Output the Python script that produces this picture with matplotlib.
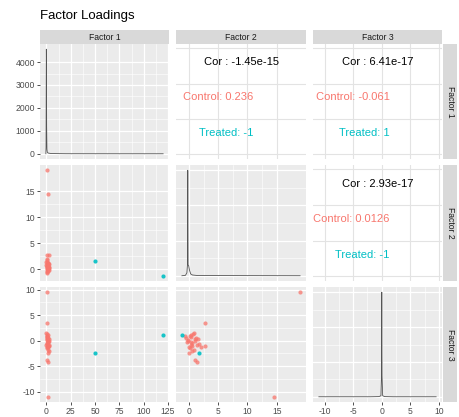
import numpy as np
import matplotlib
matplotlib.use("Agg")
import matplotlib.pyplot as plt

plt.rcParams['font.family'] = ['Liberation Sans', 'DejaVu Sans']

# factor scores, control group
ctrl_f1 = [1.0, 1.2, 0.8, 2.4, 0.9, 1.4, 0.2, 0.5, 1.1, 1.8, 2.2, 0.4, 0.7, 1.5, 2.8, 0.3,
           1.0, 1.9, 0.6, 2.5, 1.3, 0.1, 0.9, 1.6, 2.0, 3.0, 0.5, 1.2, 1.7, 0.8, 2.6, 0.0]
ctrl_f2 = [19.0, 14.5, 2.8, 2.8, 1.0, 1.3, -0.5, 0.2, 0.6, 1.1, 0.0, 0.4, -0.2, 0.9, 0.3, 1.5,
           0.7, -0.3, 0.1, 0.5, 1.2, 0.8, -0.6, 0.3, 0.6, 1.0, 1.8, 0.0, 0.4, 2.0, -0.1, 1.4]
ctrl_f3 = [9.5, -11.0, 3.5, -1.0, -3.8, -4.2, 0.5, 1.0, -0.5, 0.0, -1.2, 0.8, 0.2, -1.8, -0.8, 0.4,
           1.3, -0.3, -1.5, -2.0, 0.6, 1.6, 0.9, -0.2, -1.0, 0.3, -0.6, -2.4, 1.1, -1.3, 0.0, -0.9]

# treated group
trt_f1 = [50.0, 120.0]
trt_f2 = [1.7, -1.2]
trt_f3 = [-2.5, 1.2]

# density curves on the diagonal
d1_x = [-0.5, -0.3, -0.15, 0.0, 0.1, 0.3, 0.6, 1.0, 2.0, 5.0, 20.0, 50.0, 80.0, 120.0]
d1_y = [0, 300, 2500, 4560, 4000, 1200, 200, 60, 30, 10, 2, 1, 0, 0]
d2_x = [-1.2, -0.6, -0.35, -0.25, -0.2, -0.15, -0.05, 0.1, 0.3, 0.6, 1.5, 19.0]
d2_y = [0, 0.01, 0.08, 0.3, 2.9, 0.3, 0.28, 0.15, 0.05, 0.02, 0.005, 0]
d3_x = [-11.0, -2.0, -0.5, -0.15, -0.05, 0.0, 0.05, 0.15, 0.5, 2.0, 9.5]
d3_y = [0, 0, 0.005, 0.03, 0.6, 3.0, 0.6, 0.03, 0.005, 0, 0]

names = ["Factor 1", "Factor 2", "Factor 3"]
ticks = [[0, 25, 50, 75, 100, 125], [0, 5, 10, 15], [-10, -5, 0, 5, 10]]
dens_ticks = [0, 1000, 2000, 3000, 4000]

# correlation text for upper panels: (row, col) -> (overall, control, treated)
cor_text = {
    (0, 1): ("-1.45e-15", "0.236", "-1"),
    (0, 2): ("6.41e-17", "-0.061", "1"),
    (1, 2): ("2.93e-17", "0.0126", "-1"),
}

RED = "#F8766D"
TEAL = "#00BFC4"

ctrl = [ctrl_f1, ctrl_f2, ctrl_f3]
trt = [trt_f1, trt_f2, trt_f3]
dens = [(d1_x, d1_y), (d2_x, d2_y), (d3_x, d3_y)]


def lims(vals):
    lo, hi = min(vals), max(vals)
    r = hi - lo
    return lo - 0.05 * r, hi + 0.05 * r


var_lims = [lims(ctrl[i] + trt[i] + dens[i][0]) for i in range(3)]

W, H = 459, 417
fig = plt.figure(figsize=(W / 100, H / 100), dpi=100)

col_x = [(40, 169), (176, 306), (313, 442)]
row_y = [(44, 159), (165, 281), (287, 402)]


def minor_of(tk):
    return [(a + b) / 2 for a, b in zip(tk[:-1], tk[1:])]


def style_grey(ax):
    ax.set_facecolor("#EBEBEB")
    ax.set_axisbelow(True)


for r in range(3):
    for c in range(3):
        x0, x1 = col_x[c]
        y0, y1 = row_y[r]
        ax = fig.add_axes([x0 / W, 1 - y1 / H, (x1 - x0) / W, (y1 - y0) / H])
        for s in ax.spines.values():
            s.set_visible(False)
        ax.set_xlim(var_lims[c])
        xt = ticks[c]
        if c < r:
            # scatter
            style_grey(ax)
            ax.set_ylim(var_lims[r])
            yt = ticks[r]
            for v in minor_of(xt):
                ax.axvline(v, color="white", lw=0.4, zorder=0)
            for v in minor_of(yt):
                ax.axhline(v, color="white", lw=0.4, zorder=0)
            for v in xt:
                ax.axvline(v, color="white", lw=0.9, zorder=0)
            for v in yt:
                ax.axhline(v, color="white", lw=0.9, zorder=0)
            ax.scatter(ctrl[c], ctrl[r], s=9, color=RED, alpha=0.75, lw=0, zorder=3)
            ax.scatter(trt[c], trt[r], s=9, color=TEAL, alpha=0.9, lw=0, zorder=3)
        elif c == r:
            style_grey(ax)
            dx, dy = dens[c]
            ax.plot(dx, dy, color="#555555", lw=0.6, zorder=3)
            ax.margins(y=0.05)
            yl = ax.get_ylim()
            if r == 0:
                yt = dens_ticks
            else:
                yt = list(np.linspace(0, max(dy), 4))
            for v in minor_of(xt):
                ax.axvline(v, color="white", lw=0.4, zorder=0)
            for v in minor_of(yt):
                ax.axhline(v, color="white", lw=0.4, zorder=0)
            for v in xt:
                ax.axvline(v, color="white", lw=0.9, zorder=0)
            for v in yt:
                ax.axhline(v, color="white", lw=0.9, zorder=0)
            ax.set_ylim(yl)
        else:
            ax.set_facecolor("white")
            ax.set_ylim(0, 1)
            yt = [0.04, 0.345, 0.655, 0.965]
            for v in xt:
                ax.axvline(v, color="#E3E3E3", lw=0.8, zorder=0)
            for v in yt:
                ax.axhline(v, color="#E3E3E3", lw=0.8, zorder=0)
            cor, cc, ct = cor_text[(r, c)]
            ax.text(0.5, 0.84, "Cor : " + cor, ha="center", va="center", fontsize=8,
                    color="black", transform=ax.transAxes)
            ax.text(0.595, 0.535, "Control: " + cc, ha="right", va="center", fontsize=8,
                    color=RED, transform=ax.transAxes)
            ax.text(0.595, 0.225, "Treated: " + ct, ha="right", va="center", fontsize=8,
                    color=TEAL, transform=ax.transAxes)

        ax.tick_params(length=2.5, width=0.6, color="#333333", labelsize=6.2,
                       labelcolor="#4D4D4D", pad=1.2)
        if r == 2:
            ax.set_xticks(xt)
            ax.set_xticklabels([str(v) for v in xt])
        else:
            ax.set_xticks([])
        if c == 0:
            ax.set_yticks(yt)
            ax.set_yticklabels([str(v) for v in yt])
        else:
            ax.set_yticks([])

# strips on top
for c in range(3):
    x0, x1 = col_x[c]
    sax = fig.add_axes([x0 / W, 1 - 44 / H, (x1 - x0) / W, 14 / H])
    sax.set_facecolor("#D9D9D9")
    sax.set_xticks([])
    sax.set_yticks([])
    for s in sax.spines.values():
        s.set_visible(False)
    sax.text(0.5, 0.5, names[c], ha="center", va="center", fontsize=6.2,
             color="#1A1A1A", transform=sax.transAxes)

# strips on the right
for r in range(3):
    y0, y1 = row_y[r]
    sax = fig.add_axes([443 / W, 1 - y1 / H, 14 / W, (y1 - y0) / H])
    sax.set_facecolor("#D9D9D9")
    sax.set_xticks([])
    sax.set_yticks([])
    for s in sax.spines.values():
        s.set_visible(False)
    sax.text(0.5, 0.5, names[r], ha="center", va="center", fontsize=6.2, rotation=-90,
             color="#1A1A1A", transform=sax.transAxes)

fig.text(40 / W, 1 - 16 / H, "Factor Loadings", ha="left", va="center", fontsize=9.5, color="black")

fig.savefig("out.png", dpi=100)
